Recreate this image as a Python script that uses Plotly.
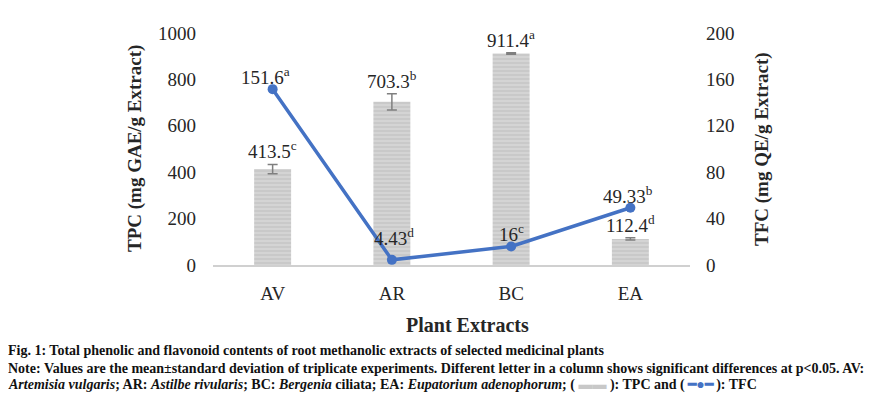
import plotly.graph_objects as go

categories = ["AV", "AR", "BC", "EA"]
tpc = [413.5, 703.3, 911.4, 112.4]
tpc_err = [20, 35, 3, 5]
tpc_letters = ["c", "b", "a", "d"]
tfc = [151.6, 4.43, 16, 49.33]
tfc_labels = ["151.6", "4.43", "16", "49.33"]
tfc_letters = ["a", "d", "c", "b"]
left_ticks = [0, 200, 400, 600, 800, 1000]
right_ticks = [0, 40, 80, 120, 160, 200]

SERIF = "Liberation Serif"
TXT = "#262626"

# the page body has an 8px margin; figure is sized so that everything fits the 894x396 window
W, H = 886, 388
ML, MT, PW, PH = 205, 25, 477, 232
MR = W - ML - PW
MB = H - MT - PH

fig = go.Figure()
fig.add_trace(go.Bar(
    x=categories, y=tpc,
    error_y=dict(type="data", array=tpc_err, color="#7f7f7f", thickness=1.5, width=5),
    marker=dict(color="#d0d0d0", line=dict(width=0),
                pattern=dict(shape="-", fgcolor="#b4b4b4", bgcolor="#d4d4d4", size=4, solidity=0.35)),
    width=0.31, name="TPC", yaxis="y",
))
fig.add_trace(go.Scatter(
    x=categories, y=tfc, mode="lines+markers", yaxis="y2", name="TFC",
    line=dict(color="#4472C4", width=3.5),
    marker=dict(size=10, color="#4472C4"),
))

ann = []
for c, v, e, l in zip(categories, tpc, tpc_err, tpc_letters):
    ann.append(dict(x=c, y=v + e, xref="x", yref="y", text=f"{v}<sup>{l}</sup>",
                    showarrow=False, yanchor="bottom", yshift=0,
                    font=dict(family=SERIF, size=19, color=TXT)))
tfc_yshift = [-1, 9, -1, -1]
tfc_xshift = [-7, 2, 0, -2]
for c, v, t, l, ys, xs in zip(categories, tfc, tfc_labels, tfc_letters, tfc_yshift, tfc_xshift):
    ann.append(dict(x=c, y=v, xref="x", yref="y2", text=f"{t}<sup>{l}</sup>",
                    showarrow=False, yanchor="bottom", yshift=ys, xshift=xs,
                    font=dict(family=SERIF, size=19, color=TXT)))


def px_x(px):
    return (px - 8 - ML) / PW


def px_y(py):
    return (H - (py - 8) - MB) / PH


# axis titles
ann.append(dict(x=px_x(135), y=0.5, xref="paper", yref="paper", textangle=-90,
                xanchor="center", yanchor="middle",
                text="<b>TPC (mg GAE/g Extract)</b>", showarrow=False,
                font=dict(family=SERIF, size=19, color=TXT)))
ann.append(dict(x=px_x(762), y=0.5, xref="paper", yref="paper", textangle=-90,
                xanchor="center", yanchor="middle",
                text="<b>TFC (mg QE/g Extract)</b>", showarrow=False,
                font=dict(family=SERIF, size=19, color=TXT)))
ann.append(dict(x=px_x(467), y=px_y(325), xref="paper", yref="paper",
                xanchor="center", yanchor="middle",
                text="<b>Plant Extracts</b>", showarrow=False,
                font=dict(family=SERIF, size=20, color=TXT)))

cap1 = "<b>Fig. 1: Total phenolic and flavonoid contents of root methanolic extracts of selected medicinal plants</b>"
cap2 = ("<b>Note: Values are the mean±standard deviation of triplicate experiments. Different letter in a column "
        "shows significant differences at p&lt;0.05. AV:</b>")
cap3 = ("<b><i>Artemisia vulgaris</i>; AR: <i>Astilbe rivularis</i>; BC: <i>Bergenia</i> ciliata; "
        "EA: <i>Eupatorium adenophorum</i>; ( <span style='color:#c8c8c8'>▬▬</span> ): TPC and "
        "( <span style='color:#4472C4'>━●━</span> ): TFC</b>")
for cap, py in zip([cap1, cap2, cap3], [350, 368, 385]):
    ann.append(dict(x=px_x(6), y=px_y(py), xref="paper", yref="paper",
                    text=cap, showarrow=False, xanchor="left", yanchor="middle",
                    font=dict(family=SERIF, size=14, color="#111")))

fig.update_layout(
    width=W, height=H,
    margin=dict(l=ML, r=MR, t=MT, b=MB, pad=0),
    paper_bgcolor="white", plot_bgcolor="white",
    showlegend=False, bargap=0.69,
    xaxis=dict(showgrid=False, showline=True, linecolor="#d0d0d0", linewidth=2,
               ticks="", tickfont=dict(family=SERIF, size=19, color=TXT),
               ticklabelstandoff=10),
    yaxis=dict(range=[0, 1000], tickvals=left_ticks, showgrid=False, zeroline=False,
               showline=False, tickfont=dict(family=SERIF, size=19, color=TXT),
               ticklabelstandoff=16),
    yaxis2=dict(range=[0, 200], tickvals=right_ticks, overlaying="y", side="right",
                showgrid=False, zeroline=False, showline=False,
                tickfont=dict(family=SERIF, size=19, color=TXT), ticklabelstandoff=15),
    annotations=ann,
)

fig.write_html("out.html")
